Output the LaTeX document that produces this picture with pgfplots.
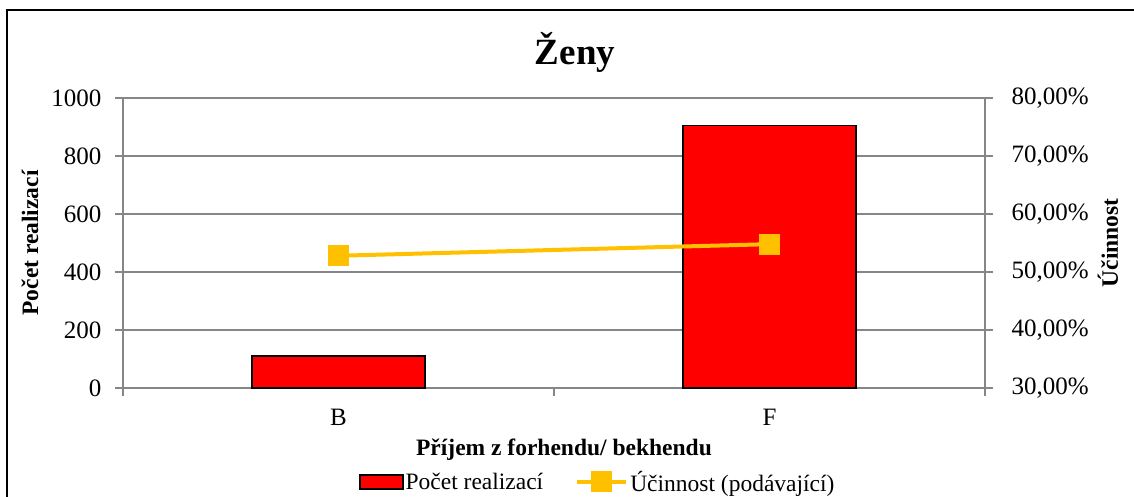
\documentclass[border=0pt]{standalone}
\usepackage{pgfplots}
\pgfplotsset{compat=1.18}
\usepackage{fontspec}
\setmainfont{Liberation Serif}
\definecolor{lineyellow}{HTML}{FFC000}
\definecolor{gridgray}{HTML}{868686}
\newcommand{\tickfont}{\fontsize{25}{29}\selectfont}
\newcommand{\labfont}{\fontsize{23.5}{28}\selectfont}
\begin{document}
\begin{tikzpicture}[x=1pt,y=1pt]
\useasboundingbox (0,0) rectangle (1134,497);
\draw[line width=2pt,black] (7,0) -- (7,487) -- (1134,487);
\begin{axis}[
  at={(123pt,109pt)}, anchor=south west,
  scale only axis, width=862pt, height=290pt,
  xmin=-0.5, xmax=1.5, ymin=0, ymax=1000,
  ytick={0,200,...,1000},
  xtick={0,1}, xticklabels={B,F},
  minor xtick={-0.5,0.5,1.5},
  major x tick style={draw=none},
  axis x line*=bottom, axis y line*=left,
  axis line style={-, draw=gridgray, line width=1.5pt},
  tick align=outside,
  major tick length=8pt, minor tick length=8pt,
  tick style={draw=gridgray, line width=1.5pt},
  ymajorgrids,
  major grid style={draw=gridgray, line width=1.5pt},
  /pgf/number format/assume math mode=true,
  /pgf/number format/1000 sep={},
  tick label style={font=\tickfont},
  yticklabel style={xshift=-10pt},
  xticklabel style={yshift=-10pt},
  title={Ženy},
  title style={at={(axis description cs:0.5244,1.135)}, anchor=center, font=\bfseries\fontsize{37}{44}\selectfont},
  xlabel={Příjem z forhendu/ bekhendu},
  xlabel style={at={(axis description cs:0.5116,-0.214)}, anchor=center, font=\bfseries\labfont},
  ylabel={Počet realizací},
  ylabel style={at={(axis description cs:-0.1079,0.5)}, anchor=center, rotate=0, font=\bfseries\labfont},
  clip=false,
]
\addplot[ybar, bar width=173pt, bar shift=0pt, fill=red, draw=black, line width=1.2pt] coordinates {(0,110) (1,906)};
\end{axis}
\begin{axis}[
  at={(123pt,109pt)}, anchor=south west,
  scale only axis, width=862pt, height=290pt,
  xmin=-0.5, xmax=1.5, ymin=30, ymax=80,
  axis x line=none, axis y line*=right,
  axis line style={-, draw=gridgray, line width=1.5pt},
  ytick={30,40,...,80},
  yticklabels={{30,00\%},{40,00\%},{50,00\%},{60,00\%},{70,00\%},{80,00\%}},
  tick align=outside, major tick length=8pt,
  tick style={draw=gridgray, line width=1.5pt},
  tick label style={font=\tickfont},
  yticklabel style={xshift=15pt},
  ylabel={Účinnost},
  ylabel style={at={(axis description cs:1.1425,0.5)}, anchor=center, rotate=0, font=\bfseries\labfont},
  legend columns=2,
  legend style={at={(axis description cs:0.551,-0.324)}, anchor=center, draw=none, fill=none, font=\labfont,
    /tikz/every even column/.append style={column sep=30pt}},
  clip=false,
]
\addlegendimage{legend image code/.code={\draw[fill=red, draw=black, line width=1.2pt] (0pt,-7pt) rectangle (43pt,7pt);}}
\addlegendentry{Počet realizací}
\addplot[color=lineyellow, line width=4pt, mark=square*, mark size=10pt, mark options={solid, line width=0pt},
  legend image code/.code={\draw[mark repeat=2,mark phase=2] plot coordinates {(0pt,0pt) (24.5pt,0pt) (49pt,0pt)};}]
  coordinates {(0,52.8) (1,54.8)};
\addlegendentry{Účinnost (podávající)}
\end{axis}
\end{tikzpicture}
\end{document}
